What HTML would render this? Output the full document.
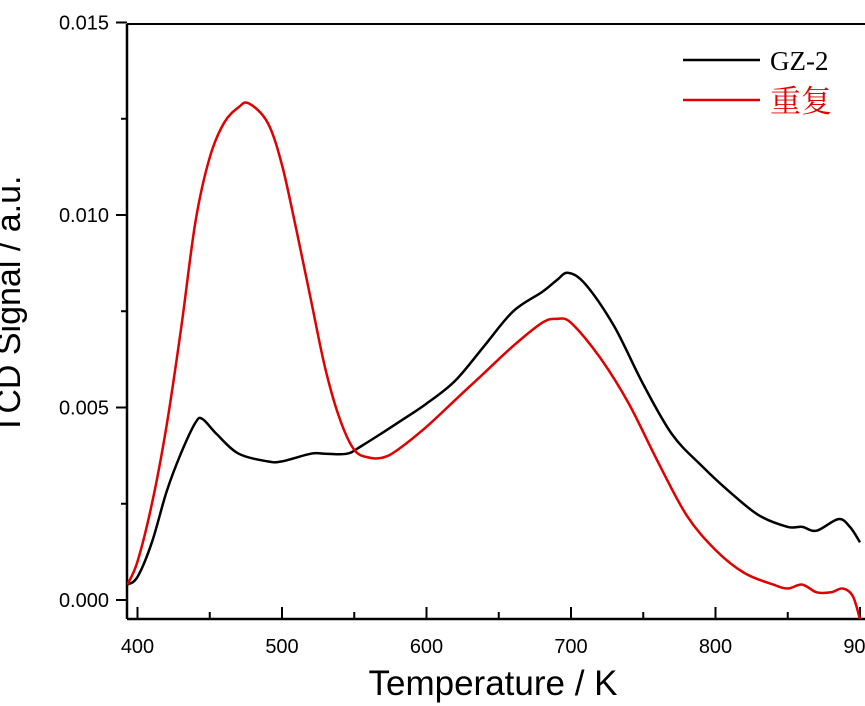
<!DOCTYPE html>
<html><head><meta charset="utf-8"><style>
html,body{margin:0;padding:0;background:#fff;}
svg{display:block;}
text{font-family:"Liberation Sans",sans-serif;}
</style></head><body>
<svg id="chart" width="865" height="706" viewBox="0 0 865 706"></svg>
<script>
const temps = [393,400,410,420,430,440,445,455,470,490,500,520,530,545,555,580,600,620,640,660,680,690,698,710,730,750,770,790,810,830,850,860,870,885,893,900];
const gz2 = [0.0004,0.0006,0.0015,0.0028,0.0038,0.0046,0.0047,0.0043,0.0038,0.0036,0.0036,0.0038,0.0038,0.0038,0.0040,0.0046,0.0051,0.0057,0.0066,0.0075,0.0080,0.0083,0.0085,0.0082,0.0071,0.0056,0.0043,0.0035,0.0028,0.0022,0.0019,0.0019,0.0018,0.0021,0.0019,0.0015];
const tempsRep = [393,400,410,420,430,440,450,460,470,477,490,500,510,520,530,540,550,560,570,580,600,620,640,660,680,690,700,720,740,760,780,800,820,840,850,860,870,880,888,895,900];
const rep = [0.0004,0.0010,0.0025,0.0045,0.0070,0.0098,0.0115,0.0124,0.0128,0.0129,0.0124,0.0113,0.0096,0.0078,0.0060,0.0047,0.0039,0.0037,0.0037,0.0039,0.0045,0.0052,0.0059,0.0066,0.0072,0.0073,0.0072,0.0063,0.0051,0.0036,0.0022,0.0013,0.0007,0.0004,0.0003,0.0004,0.0002,0.0002,0.0003,0.0001,-0.0005];
const xTicks = [400,500,600,700,800,900];
const xMinor = [450,550,650,750,850];
const yTicks = [0,0.005,0.010,0.015];
const yTickLabels = ["0.000","0.005","0.010","0.015"];
const yMinor = [0.0025,0.0075,0.0125];

const NS="http://www.w3.org/2000/svg";
const svg=document.getElementById('chart');
const X=t=>137.5+(t-400)*1.445;
const Y=v=>600-v*38500;
const L=127,T=24,B=619,R=870;
function el(tag,attrs,parent){const e=document.createElementNS(NS,tag);for(const k in attrs)e.setAttribute(k,attrs[k]);(parent||svg).appendChild(e);return e;}

const clip=el('clipPath',{id:'pc'});el('rect',{x:L,y:T,width:R-L,height:B-T},clip);

const axes=el('g',{});


el('line',{x1:L,y1:T,x2:L,y2:B,stroke:'#000','stroke-width':2.5},axes);
el('line',{x1:L,y1:B,x2:R,y2:B,stroke:'#000','stroke-width':2.5},axes);
el('line',{x1:L,y1:T,x2:R,y2:T,stroke:'#000','stroke-width':2},axes);

xTicks.forEach(t=>{
  const l=el('line',{x1:X(t),y1:B,x2:X(t),y2:B-12,stroke:'#000','stroke-width':2});
  
  
  const tx=el('text',{x:X(t),y:B+34,'text-anchor':'middle','font-size':20});
  
  
  tx.textContent=t;
});
xMinor.forEach(t=>{
  const l=el('line',{x1:X(t),y1:B,x2:X(t),y2:B-7,stroke:'#000','stroke-width':2});
  
  
});
yTicks.forEach((v,i)=>{
  const l=el('line',{x1:L-11,y1:Y(v),x2:L,y2:Y(v),stroke:'#000','stroke-width':2});
  
  
  const tx=el('text',{x:L-18,y:Y(v)+7,'text-anchor':'end','font-size':20});
  
  
  tx.textContent=yTickLabels[i];
});
yMinor.forEach(v=>{
  const l=el('line',{x1:L-6,y1:Y(v),x2:L,y2:Y(v),stroke:'#000','stroke-width':2});
  
  
});

function series(xs,ys,color,name){
  const P=xs.map((t,i)=>[X(t),Y(ys[i])]);
  let d='M'+P[0][0].toFixed(1)+','+P[0][1].toFixed(1);
  for(let i=0;i<P.length-1;i++){
    const p0=P[Math.max(i-1,0)],p1=P[i],p2=P[i+1],p3=P[Math.min(i+2,P.length-1)];
    const c1=[p1[0]+(p2[0]-p0[0])/6,p1[1]+(p2[1]-p0[1])/6];
    const c2=[p2[0]-(p3[0]-p1[0])/6,p2[1]-(p3[1]-p1[1])/6];
    d+=' C'+c1.map(n=>n.toFixed(1)).join(',')+' '+c2.map(n=>n.toFixed(1)).join(',')+' '+p2.map(n=>n.toFixed(1)).join(',');
  }
  const p=el('path',{d:d,fill:'none',stroke:color,'stroke-width':2.5,'stroke-linejoin':'round','clip-path':'url(#pc)'});
  
  
}
series(temps,gz2,'#000','gz2-line');
series(tempsRep,rep,'#e00000','repeat-line');

const lg=el('g',{});


el('line',{x1:683,y1:60,x2:760,y2:60,stroke:'#000','stroke-width':2.5},lg);
const t1=el('text',{x:770,y:70,'font-size':27,style:'font-family:"Liberation Serif",serif'},lg);


t1.textContent='GZ-2';
el('line',{x1:683,y1:100,x2:760,y2:100,stroke:'#e00000','stroke-width':2.5},lg);
const t2=el('text',{x:770,y:112,'font-size':31,fill:'#e00000',style:'font-family:"Liberation Serif","Noto Serif CJK SC",serif'},lg);


t2.textContent='重复';

const xt=el('text',{x:493,y:695,'text-anchor':'middle','font-size':35});


xt.textContent='Temperature / K';
const yt=el('text',{x:0,y:0,'text-anchor':'middle','font-size':34,transform:'translate(20,305) rotate(-90)'});


yt.textContent='TCD Signal / a.u.';
</script>
</body></html>
